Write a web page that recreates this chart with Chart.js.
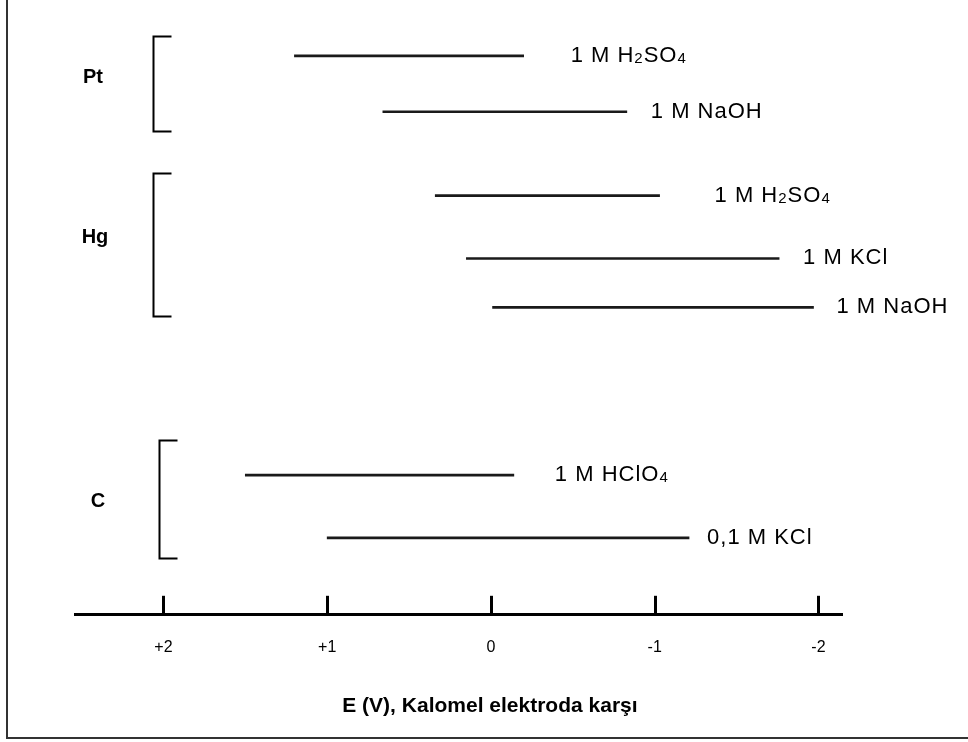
<!DOCTYPE html>
<html>
<head>
<meta charset="utf-8">
<script src="https://cdn.jsdelivr.net/npm/chart.js@4.4.1/dist/chart.umd.min.js"></script>
<style>
  html, body { margin: 0; padding: 0; background: #fff; }
  #wrap { width: 968px; height: 742px; }
</style>
</head>
<body>
<div id="wrap"><canvas id="chart" width="968" height="742"></canvas></div>
<script>
// potential windows, V vs. calomel electrode
var rowLabels = ["1 M H₂SO₄", "1 M NaOH", "1 M H₂SO₄", "1 M KCl", "1 M NaOH", "1 M HClO₄", "0,1 M KCl"];
var rowStart  = [1.2, 0.66, 0.34, 0.15, -0.01, 1.5, 1.0];
var rowEnd    = [-0.2, -0.83, -1.03, -1.76, -1.97, -0.14, -1.21];
var rowLevel  = [20, 18, 15, 12.75, 11, 5, 2.75];

// electrode groups (bracket spans on the row scale)
var groupNames = ["Pt", "Hg", "C"];
var groupLow   = [17.3, 10.7, 2.05];
var groupHigh  = [20.7, 15.8, 6.25];

var tickValues = [2, 1, 0, -1, -2];
var tickLabels = ["+2", "+1", "0", "-1", "-2"];
var axisTitle  = "E (V), Kalomel elektroda karşı";

var FONT = "'Liberation Sans', Arial, sans-serif";
var SUBS = "₀₁₂₃₄₅₆₇₈₉";

// draws text, rendering unicode subscript digits as small lowered digits
function drawChem(ctx, text, x, y, size, spacing) {
  var chars = Array.from(text);
  for (var i = 0; i < chars.length; i++) {
    var ch = chars[i];
    var k = SUBS.indexOf(ch);
    if (k >= 0) {
      ctx.font = Math.round(size * 0.66) + "px " + FONT;
      ctx.fillText(String(k), x, y + 1);
      x += ctx.measureText(String(k)).width + spacing;
    } else {
      ctx.font = size + "px " + FONT;
      ctx.fillText(ch, x, y);
      x += ctx.measureText(ch).width + spacing;
    }
  }
}

var overlay = {
  id: "overlay",
  afterDraw: function (chart, args, opts) {
    var ctx = chart.ctx;
    var xs = chart.scales.x, ys = chart.scales.y;
    ctx.save();
    ctx.strokeStyle = "#000";
    ctx.fillStyle = "#000";

    // tick marks standing up from the axis
    ctx.lineWidth = 3;
    tickValues.forEach(function (v) {
      var px = Math.round(xs.getPixelForValue(v)) + 0.5;
      ctx.beginPath();
      ctx.moveTo(px, xs.top - 19);
      ctx.lineTo(px, xs.top);
      ctx.stroke();
    });

    // solution labels at the right end of each window
    ctx.textBaseline = "alphabetic";
    ctx.textAlign = "left";
    rowLabels.forEach(function (t, i) {
      var px = xs.getPixelForValue(rowEnd[i]) + opts.labelGap[i];
      var py = ys.getPixelForValue(rowLevel[i]) + 6;
      drawChem(ctx, t, px, py, 22, 1);
    });

    // brackets and electrode names
    ctx.lineWidth = 2;
    groupNames.forEach(function (name, g) {
      var bx = Math.round(xs.getPixelForValue(2) + opts.bracketShift[g]) + 0.5;
      var yt = Math.round(ys.getPixelForValue(groupHigh[g])) + 0.5;
      var yb = Math.round(ys.getPixelForValue(groupLow[g])) + 0.5;
      ctx.beginPath();
      ctx.moveTo(bx + 18, yt);
      ctx.lineTo(bx, yt);
      ctx.lineTo(bx, yb);
      ctx.lineTo(bx + 18, yb);
      ctx.stroke();
      ctx.font = "bold 20px " + FONT;
      ctx.textAlign = "center";
      ctx.textBaseline = "middle";
      ctx.fillText(name, opts.nameX[g], (yt + yb) / 2 + opts.nameNudge[g]);
    });

    // axis title, centred under the 0 V tick
    ctx.font = "bold 21px " + FONT;
    ctx.textAlign = "center";
    ctx.textBaseline = "middle";
    ctx.fillText(axisTitle, xs.getPixelForValue(0) - 1, xs.top + 91);

    // picture frame (left and bottom edges)
    ctx.strokeStyle = "#333";
    ctx.lineWidth = 2;
    ctx.beginPath();
    ctx.moveTo(7, 0);
    ctx.lineTo(7, 738);
    ctx.lineTo(968, 738);
    ctx.stroke();
    ctx.restore();
  }
};

var ctx = document.getElementById("chart").getContext("2d");
var chart = new Chart(ctx, {
  type: "bar",
  data: {
    datasets: [{
      data: rowLevel.map(function (lv, i) {
        return { x: [rowStart[i], rowEnd[i]], y: lv };
      }),
      backgroundColor: "#1a1a1a",
      borderWidth: 0,
      barThickness: 2
    }]
  },
  options: {
    indexAxis: "y",
    responsive: false,
    animation: false,
    layout: { padding: { left: 75, right: 126, top: 0, bottom: 62 } },
    plugins: {
      legend: { display: false },
      tooltip: { enabled: false },
      overlay: {
        labelGap: [47, 24, 55, 24, 23, 41, 18],
        bracketShift: [-10, -10, -4],
        nameX: [93, 95, 98],
        nameNudge: [-7, -8, 2]
      }
    },
    scales: {
      y: { type: "linear", min: 0, max: 22, offset: false, display: false },
      x: {
        type: "linear",
        reverse: true,
        min: -2.144,
        max: 2.54,
        afterBuildTicks: function (s) {
          s.ticks = tickValues.map(function (v) { return { value: v }; });
        },
        ticks: {
          autoSkip: false,
          maxRotation: 0,
          padding: 23,
          color: "#000",
          font: { family: FONT, size: 16 },
          callback: function (v, i) { return tickLabels[i]; }
        },
        grid: { display: false, drawTicks: false },
        border: { display: true, color: "#000", width: 3 }
      }
    }
  },
  plugins: [overlay]
});
</script>
</body>
</html>
